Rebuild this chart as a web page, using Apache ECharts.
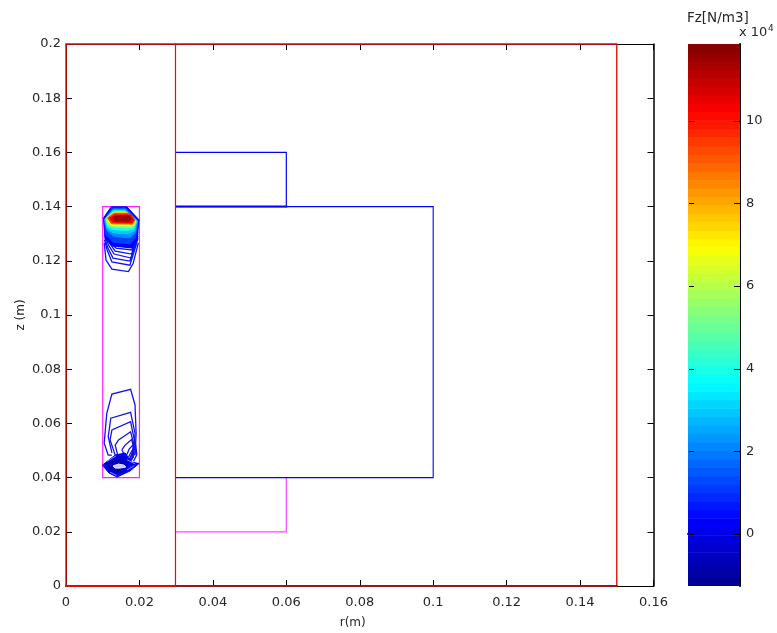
<!DOCTYPE html>
<html><head><meta charset="utf-8">
<style>html,body{margin:0;padding:0;background:#fff}#c{width:777px;height:633px}</style>
<script src="https://cdn.jsdelivr.net/npm/echarts@6/dist/echarts.min.js"></script>
</head><body><div id="c"></div>
<script>
// Geometry outlines, [r (m), z (m)]
const outerLeftTop = [[0,0],[0,0.2],[0.15,0.2],[0.15,0]];
const outerBottomA = [[0,0],[0.03,0]];
const outerBottomB = [[0.03,0],[0.15,0]];
const axisLineR = [[0.02982,0],[0.02982,0.2]];
const coilRect = [[0.01,0.04],[0.02,0.04],[0.02,0.14],[0.01,0.14],[0.01,0.04]];
const lowerPole = [[0.03,0.02],[0.06,0.02],[0.06,0.04]];
const upperPole = [[0.03,0.16],[0.06,0.16],[0.06,0.14]];
const upperPoleBase = [[0.03,0.14],[0.06,0.14]];
const magnetRect = [[0.03,0.04],[0.1,0.04],[0.1,0.14],[0.03,0.14]];

// Filled force contours, level in 1e4 N/m3, points [r (mm), z (mm)]
const topLevels = [0.3,1.2,2.2,3,4,5.5,7,8,9.5,10.5,11.5];
const topRings = [
 [[10.2,135.8],[12.3,139.9],[16.6,139.9],[19.9,135.1],[19.3,127.7],[18,124.7],[12.5,125.5],[10.6,128.4]],
 [[10.4,135.1],[12.5,139.5],[16.3,139.5],[19.6,134.7],[18.9,128.4],[17.4,126.2],[12.8,126.9],[10.9,129.5]],
 [[10.5,135.1],[12.8,139.1],[16.1,139.1],[19.5,134.7],[18.8,130.0],[17.2,128.4],[12.8,129.2],[11.2,131.0]],
 [[10.6,135.4],[12.8,138.7],[16.1,138.7],[19.3,134.7],[18.7,131.0],[16.9,129.9],[12.8,130.3],[11.2,131.7]],
 [[10.8,135.4],[12.9,138.4],[16.1,138.4],[19.2,134.7],[18.5,131.7],[16.6,131.2],[12.8,131.5],[11.3,132.5]],
 [[10.9,135.8],[13.1,138.0],[16.3,138.0],[19.1,134.7],[18.3,132.5],[16.6,132.1],[12.8,132.5],[11.4,133.2]],
 [[11.1,135.8],[13.1,137.8],[16.6,137.8],[18.9,134.7],[18.3,133.0],[12.5,133.2],[11.7,133.8]],
 [[11.2,135.8],[13.1,137.6],[16.9,137.6],[18.8,134.9],[18.1,133.4],[12.5,133.6]],
 [[11.4,135.8],[13.1,137.5],[17.4,137.5],[18.7,135.1],[18.1,133.7],[12.3,133.9]],
 [[11.9,135.8],[13.4,136.9],[17.6,136.9],[18.4,135.1],[17.9,134.1],[12.7,134.3]],
 [[12.8,135.8],[13.6,136.5],[17.2,136.5],[17.7,135.4],[17.2,134.7],[13.4,134.7]]
];
const lowerLevels = [0.2,-0.3,-0.8];
const lowerRings = [
 [[9.9,44.6],[13.4,48.3],[16.1,49.1],[17.7,45.8],[19.9,45.2],[17.4,42.4],[13.9,40.2],[11.7,41.7]],
 [[10.6,44.6],[13.6,47.6],[16.1,47.2],[16.9,45.0],[16.1,42.8],[13.9,41.0],[12,42.4]],
 [[11.4,44.6],[13.6,46.5],[15.8,46.1],[16.3,44.3],[15.2,42.8],[13.6,42.1],[12.2,42.8]]
];
const lowerCore = [[12.8,44.3],[14.3,45.0],[15.8,44.6],[16.3,43.9],[14.7,43.5],[13.4,43.5]];
const lowerStreaks = [
 [[11.2,46],[13.6,48]],
 [[16.6,46.6],[18.9,45]],
 [[12,42],[13.8,40.8]],
 [[16.6,42.8],[18.6,44.4]]
];
// Open contour lines, [r (mm), z (mm)]
const topLines = [
 [[10.4,126.6],[10.9,120.3],[12.5,116.9],[17,116],[18.3,119.1],[19.7,126.6]],
 [[10.5,127.7],[11.2,124],[12.5,119.6],[17.4,118.4],[19.1,125.8],[19.6,128.4]],
 [[10.6,128.4],[11.4,124.7],[12.8,121],[17.4,119.9],[19.1,126.6],[19.6,129.2]],
 [[10.6,129.2],[11.7,125.5],[13.1,122.5],[17.7,121],[19.1,127.7],[19.6,129.9]],
 [[10.8,129.9],[12,126.2],[13.4,123.6],[17.9,122.5],[19.1,128.4],[19.6,130.7]],
 [[10.9,130.7],[12,126.9],[13.6,124.7],[18,124],[18.9,129.2],[19.6,131.4]],
 [[11,131],[12.2,127.6],[13.8,125.6],[18,125],[18.9,130],[19.6,132]]
];
const lowerLines = [
 [[12.5,48.3],[11.5,48.3],[10.4,52.7],[11.1,63.7],[12.5,70.8],[17.6,72.6],[18.8,66.8],[19.1,56.3],[18.8,48.3]],
 [[12.5,49.1],[11.5,55.1],[12.2,61.9],[17.6,64.1],[18.8,56.3],[18.3,47.2]],
 [[13.4,48.3],[12,53.9],[12.5,57.6],[17.6,60.6],[18.6,53.9],[17.9,46.5]],
 [[14.3,47.2],[13.4,52],[14.3,53.9],[17.6,56.9],[18.5,52],[17.4,45.9]],
 [[15.2,50.2],[16.1,52],[17.9,54.1],[18.5,50.2],[16.9,45.9],[15.2,50.2]],
 [[16.4,48],[17.2,50.5],[18.2,52],[18.9,49.5],[17.6,46]],
 [[17,47.5],[17.9,49.8],[19,52],[19.3,48.5],[18.4,46]]
];

// Axis ticks and colour bar
const xMax = 0.16, xStep = 0.02;
const yMax = 0.2, yStep = 0.02;
const barMin = -1.26, barMax = 11.86, barBands = 64;
const barTicks = [0,2,4,6,8,10];
const jetStops = [[0,[0,0,143]],[0.125,[0,0,255]],[0.375,[0,255,255]],[0.625,[255,255,0]],[0.875,[255,0,0]],[1,[128,0,0]]];

function jet(t){
  t=Math.max(0,Math.min(1,t));
  for(let i=1;i<jetStops.length;i++){
    if(t<=jetStops[i][0]){
      const a=jetStops[i-1],b=jetStops[i],f=(t-a[0])/(b[0]-a[0]);
      const c=a[1].map((v,k)=>Math.round(v+(b[1][k]-v)*f));
      return 'rgb('+c.join(',')+')';
    }
  }
  return 'rgb(128,0,0)';
}
const levelColor=v=>jet((v-barMin)/(barMax-barMin));
const mm=p=>[p[0]/1000,p[1]/1000];

const INK='#262626', FONT='"DejaVu Sans"';
function outline(data,color,width,z){
  return {type:'line',xAxisIndex:0,yAxisIndex:0,data,showSymbol:false,symbol:'none',silent:true,clip:false,z:z||3,animation:false,
    lineStyle:{color,width,cap:'square',join:'miter'}};
}
function ringSeries(rings,levels,z){
  return {type:'custom',xAxisIndex:0,yAxisIndex:0,silent:true,animation:false,z,clip:false,
    data:rings.map((_,i)=>[i]),
    renderItem:(p,api)=>{
      const i=api.value(0);
      return {type:'polygon',shape:{points:rings[i].map(q=>api.coord(mm(q)))},
        style:{fill:levelColor(levels[i]),stroke:levelColor(levels[i]),lineWidth:1}};
    }};
}
function lineSeries(lines,color,z,w){
  return {type:'custom',xAxisIndex:0,yAxisIndex:0,silent:true,animation:false,z,clip:false,
    data:lines.map((_,i)=>[i]),
    renderItem:(p,api)=>({type:'polyline',shape:{points:lines[api.value(0)].map(q=>api.coord(mm(q)))},
      style:{fill:null,stroke:color,lineWidth:w}})};
}
const bandLevels=[];
for(let i=0;i<barBands;i++) bandLevels.push(i);

const axBase={min:0,axisLine:{show:true,onZero:false,lineStyle:{color:'#000',width:1}},
  axisTick:{show:true,inside:true,length:6,lineStyle:{color:'#000',width:1}},splitLine:{show:false}};
const lab={color:INK,fontFamily:FONT,fontSize:13};
const chart=echarts.init(document.getElementById('c'),null,{renderer:'canvas'});
chart.setOption({
  animation:false,backgroundColor:'#fff',
  title:[
    {text:'Fz[N/m3]',left:687,top:11,padding:0,textStyle:{color:INK,fontFamily:FONT,fontSize:13.5,fontWeight:'normal'}},
    {text:'x 10',left:739,top:26,padding:0,textStyle:{color:INK,fontFamily:FONT,fontSize:13,fontWeight:'normal'}},
    {text:'4',left:768,top:24,padding:0,textStyle:{color:INK,fontFamily:FONT,fontSize:9,fontWeight:'normal'}}
  ],
  grid:[{left:66,top:44,width:587.5,height:542,containLabel:false,outerBoundsMode:'none'},
        {left:688,top:44,width:52,height:542,containLabel:false,outerBoundsMode:'none'}],
  xAxis:[
    {...axBase,type:'value',gridIndex:0,position:'bottom',max:xMax,interval:xStep,
      name:'r(m)',nameLocation:'middle',nameGap:31,nameMoveOverlap:false,nameTextStyle:{color:INK,fontFamily:FONT,fontSize:12,padding:[0,14,0,0]},
      axisLabel:{...lab,margin:10,hideOverlap:false}},
    {...axBase,type:'value',gridIndex:0,position:'top',max:xMax,interval:xStep,axisLabel:{show:false}},
    {type:'value',gridIndex:1,min:0,max:1,axisLine:{show:true,lineStyle:{color:'#000',width:2}},axisTick:{show:false},axisLabel:{show:false},splitLine:{show:false}}
  ],
  yAxis:[
    {...axBase,type:'value',gridIndex:0,position:'left',max:yMax,interval:yStep,
      name:'z (m)',nameLocation:'middle',nameGap:39,nameMoveOverlap:false,nameRotate:90,nameTextStyle:{color:INK,fontFamily:FONT,fontSize:12},
      axisLabel:{...lab,margin:5,padding:[5,0,0,0]}},
    {...axBase,type:'value',gridIndex:0,position:'right',max:yMax,interval:yStep,
      axisLine:{show:true,onZero:false,lineStyle:{color:'#000',width:1.5}},axisLabel:{show:false}},
    {...axBase,type:'value',gridIndex:1,position:'right',min:barMin,max:barMax,
      axisLine:{show:true,onZero:false,lineStyle:{color:'#000',width:2}},
      axisTick:{show:false},
      axisLabel:{...lab,margin:6,padding:[5,0,0,0],customValues:barTicks}}
  ],
  series:[
    outline(outerLeftTop,'#e01010',1.4,3),
    outline(outerBottomA,'#dd0a0a',2,4),
    outline(outerBottomB,'#a01414',2,4),
    outline(axisLineR,'#ff0000',1.2,5),
    outline(coilRect,'#ff22ff',1.2,3),
    outline(lowerPole,'#ff44ff',1.2,3),
    outline(upperPole,'#0000ff',1.2,3),
    outline(upperPoleBase,'#0000ff',2,3),
    outline(magnetRect,'#0000ff',1.1,3),
    lineSeries(topLines,'#0a14f0',6,1.3),
    ringSeries(topRings,topLevels,7),
    lineSeries(lowerLines,'#1414e6',6,1.3),
    ringSeries(lowerRings,lowerLevels,7),
    lineSeries(lowerStreaks,'#8a8aff',8,1),
    {type:'custom',xAxisIndex:0,yAxisIndex:0,silent:true,animation:false,z:8,data:[[0]],
      renderItem:(p,api)=>({type:'polygon',shape:{points:lowerCore.map(q=>api.coord(mm(q)))},style:{fill:'#c8c8ff',stroke:'#e8e8ff',lineWidth:1}})},
    {type:'custom',xAxisIndex:2,yAxisIndex:2,silent:true,animation:false,z:1,clip:true,
      data:bandLevels.map(i=>[i]),
      renderItem:(p,api)=>{
        const i=api.value(0),s=(barMax-barMin)/barBands;
        const a=api.coord([0,barMin+i*s]),b=api.coord([1,barMin+(i+1)*s]);
        return {type:'rect',shape:{x:a[0],y:b[1],width:b[0]-a[0],height:a[1]-b[1]+0.6},
          style:{fill:jet((i+0.5)/barBands)}};
      }},
    {type:'custom',xAxisIndex:2,yAxisIndex:2,silent:true,animation:false,z:9,
      data:barTicks.map(v=>[v]),
      renderItem:(p,api)=>{
        const a=api.coord([0,api.value(0)]),b=api.coord([1,api.value(0)]),y=Math.round(a[1])+0.5;
        return {type:'group',children:[
          {type:'line',shape:{x1:a[0]+1,y1:y,x2:a[0]+6,y2:y},style:{stroke:'#000',lineWidth:1}},
          {type:'line',shape:{x1:b[0]-6,y1:y,x2:b[0],y2:y},style:{stroke:'#000',lineWidth:1}}
        ]};
      }}
  ]
});
</script></body></html>
